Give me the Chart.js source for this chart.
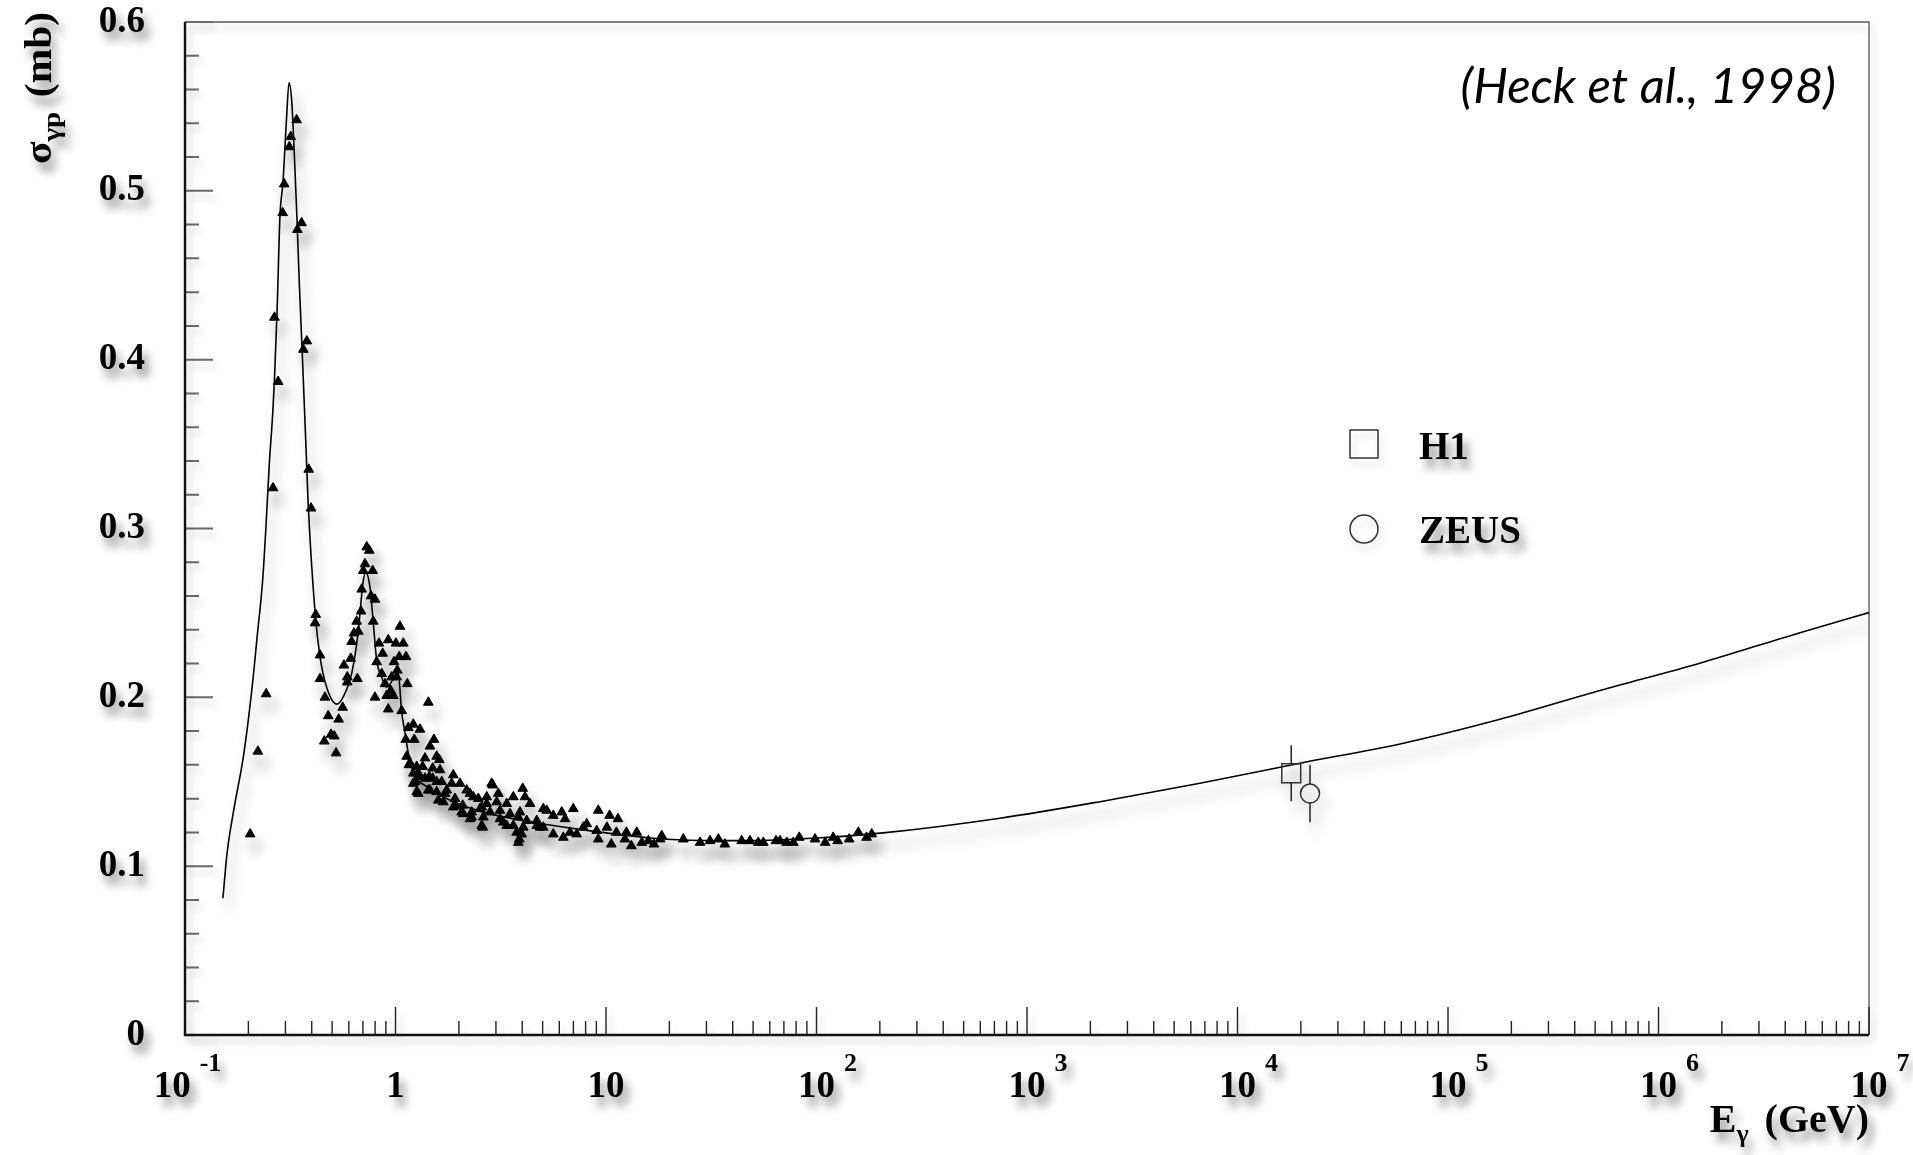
<!DOCTYPE html>
<html>
  <head>
    <title>Photoproduction cross section</title>
    <meta charset="utf-8">
    <style>
      html, body { margin: 0; padding: 0; background: #fff; overflow: hidden; }
      #frame { width: 1913px; height: 1155px; position: relative; }
    </style>
  </head>
  <body>
    <div id="frame">
      <canvas id="chart"></canvas>
    </div>

    <script src="https://cdn.jsdelivr.net/npm/chart.js"></script>
    <script>
      // decades shown on the energy axis (10^-1 .. 10^7 GeV)
      const decades = [-1, 0, 1, 2, 3, 4, 5, 6, 7];

      // low energy photoproduction data (triangles), E in GeV, sigma in mb
      const photonEnergy = [
        0.204, 0.222, 0.243, 0.262, 0.266, 0.277, 0.291, 0.296, 0.313, 0.318,
        0.339, 0.342, 0.358, 0.365, 0.379, 0.387, 0.397, 0.418, 0.415, 0.438,
        0.438, 0.462, 0.479, 0.459, 0.494, 0.512, 0.522, 0.537, 0.561, 0.569,
        0.590, 0.590, 0.613, 0.659, 0.619, 0.635, 0.666, 0.654, 0.686, 0.691,
        0.703, 0.716, 0.779, 0.730, 0.751, 0.765, 0.799, 0.784, 0.814, 0.835,
        0.869, 0.924, 1.005, 1.089, 1.050, 0.984, 1.042, 1.122, 0.860, 0.892,
        0.959, 1.020, 1.013, 0.799, 0.908, 0.949, 0.976, 0.924, 1.138, 1.432,
        1.070, 1.150, 1.215, 1.307, 1.118, 1.228, 1.523, 1.458, 1.569, 1.130,
        1.159, 1.381, 1.261, 1.502, 1.215, 1.307, 1.447, 1.215, 1.283, 1.458,
        1.569, 1.627, 1.597, 1.719, 1.882, 1.917, 2.10, 2.025, 2.179, 2.343,
        2.301, 2.568, 2.568, 2.712, 2.896, 3.079, 2.812, 3.136, 3.375, 3.628,
        4.021, 4.123, 4.355, 3.765, 3.874, 3.977, 3.499, 3.832, 4.201, 4.688,
        5.036, 5.228, 5.617, 6.16, 6.99, 6.39, 5.036, 5.617, 6.27, 6.75,
        7.26, 7.80, 8.10, 9.19, 10.4, 11.4, 9.03, 10.1, 11.2, 9.19,
        10.6, 12.5, 14.0, 12.3, 13.2, 14.8, 15.9, 16.9, 18.1, 18.4,
        23.3, 28.0, 31.2, 34.2, 36.7, 44.1, 48.3, 52.9, 55.9, 64.2,
        67.1, 72.2, 77.6, 82.8, 98.4, 110, 120, 126, 143, 158,
        173, 183,
        1.172, 1.615, 1.346, 1.283, 1.238, 1.381, 1.502, 1.658, 1.849, 1.261,
        1.432, 1.569, 1.751, 2.259, 2.864, 1.917, 2.474, 1.687, 2.086, 2.712,
        3.026, 3.375, 1.882, 2.301, 2.52, 2.063, 2.259, 2.613, 3.136, 3.903,
        4.688, 2.596, 3.252, 3.628, 4.047, 3.832, 4.86
      ];
      const photonSigma = [
        0.119, 0.168, 0.202, 0.324, 0.425, 0.387, 0.487, 0.504, 0.526, 0.532,
        0.542, 0.477, 0.481, 0.406, 0.411, 0.335, 0.312, 0.249, 0.244, 0.225,
        0.211, 0.200, 0.189, 0.174, 0.178, 0.177, 0.167, 0.187, 0.194, 0.219,
        0.209, 0.212, 0.223, 0.211, 0.233, 0.238, 0.239, 0.245, 0.251, 0.264,
        0.275, 0.279, 0.275, 0.289, 0.287, 0.260, 0.258, 0.245, 0.221, 0.232,
        0.226, 0.234, 0.232, 0.232, 0.242, 0.221, 0.224, 0.224, 0.214, 0.208,
        0.212, 0.216, 0.212, 0.200, 0.201, 0.204, 0.201, 0.193, 0.208, 0.197,
        0.192, 0.182, 0.184, 0.181, 0.175, 0.175, 0.175, 0.171, 0.165, 0.165,
        0.160, 0.164, 0.159, 0.158, 0.155, 0.153, 0.153, 0.149, 0.143, 0.145,
        0.150, 0.157, 0.139, 0.143, 0.154, 0.136, 0.131, 0.149, 0.145, 0.141,
        0.129, 0.124, 0.135, 0.141, 0.148, 0.143, 0.132, 0.128, 0.124, 0.141,
        0.146, 0.141, 0.137, 0.120, 0.116, 0.119, 0.131, 0.129, 0.127, 0.124,
        0.134, 0.133, 0.130, 0.132, 0.134, 0.128, 0.123, 0.119, 0.117, 0.120,
        0.119, 0.123, 0.125, 0.133, 0.130, 0.128, 0.121, 0.123, 0.120, 0.116,
        0.113, 0.120, 0.120, 0.116, 0.112, 0.114, 0.115, 0.113, 0.116, 0.118,
        0.116, 0.114, 0.115, 0.116, 0.113, 0.115, 0.115, 0.114, 0.114, 0.115,
        0.115, 0.114, 0.114, 0.117, 0.116, 0.114, 0.117, 0.115, 0.116, 0.120,
        0.117, 0.119,
        0.161, 0.163, 0.159, 0.155, 0.150, 0.152, 0.152, 0.150, 0.149, 0.144,
        0.145, 0.144, 0.145, 0.143, 0.149, 0.140, 0.140, 0.138, 0.136, 0.137,
        0.138, 0.137, 0.135, 0.132, 0.134, 0.132, 0.128, 0.129, 0.133, 0.132,
        0.127, 0.123, 0.126, 0.124, 0.123, 0.114, 0.123
      ];

      // model curve (solid line)
      const fitEnergy = [
        0.1514, 0.1582, 0.1703, 0.1905, 0.209, 0.221, 0.2334, 0.2422, 0.2514, 0.261,
        0.266, 0.274, 0.2826, 0.292, 0.304, 0.312, 0.321, 0.330, 0.340, 0.349,
        0.360, 0.376, 0.384, 0.415, 0.438, 0.471, 0.526, 0.563, 0.620, 0.664,
        0.701, 0.722, 0.757, 0.782, 0.814, 0.86, 0.908, 1.03, 1.07, 1.11,
        1.15, 1.22, 1.41, 1.82, 2.61, 4.5, 7.8, 16.2, 23.2, 48.3,
        100, 207, 744, 2222, 6635, 1.98e4, 5.92e4, 1.766e5, 5.27e5, 1.57e6,
        4.7e6, 1e7
      ];
      const fitSigma = [
        0.081, 0.107, 0.133, 0.167, 0.2075, 0.238, 0.268, 0.300, 0.338, 0.368,
        0.388, 0.430, 0.485, 0.505, 0.544, 0.564, 0.554, 0.524, 0.485, 0.446,
        0.406, 0.347, 0.317, 0.250, 0.224, 0.206, 0.196, 0.200, 0.2145, 0.238,
        0.268, 0.274, 0.265, 0.246, 0.222, 0.212, 0.206, 0.2145, 0.191, 0.179,
        0.167, 0.155, 0.147, 0.139, 0.132, 0.126, 0.1215, 0.1167, 0.1155, 0.1151,
        0.1167, 0.1197, 0.1284, 0.1382, 0.1491, 0.161, 0.1724, 0.187, 0.204, 0.2202,
        0.2383, 0.2502
      ];

      // HERA measurements
      const heraLabels = ['H1', 'ZEUS'];
      const heraEnergy = [1.80e4, 2.21e4];
      const heraSigma = [0.155, 0.143];
      const heraError = [0.0166, 0.017];

      const serif = "'Liberation Serif', 'Times New Roman', serif";

      function setShadow(ctx, color, blur, dx, dy) {
        ctx.shadowColor = color;
        ctx.shadowBlur = blur;
        ctx.shadowOffsetX = dx;
        ctx.shadowOffsetY = dy;
      }

      const rootStyle = {
        id: 'rootStyle',
        beforeDraw(chart) {
          const ctx = chart.ctx;
          ctx.save();
          setShadow(ctx, 'rgba(0,0,0,0.45)', 10, 5, 9);
        },
        beforeDatasetsDraw(chart) {
          const ctx = chart.ctx;
          const {left, right, top, bottom} = chart.chartArea;
          const xs = chart.scales.x, ys = chart.scales.y;
          ctx.save();
          setShadow(ctx, 'rgba(0,0,0,0.22)', 8, 4, 6);

          // thin frame on top and right
          ctx.strokeStyle = '#555';
          ctx.lineWidth = 1.3;
          ctx.beginPath();
          ctx.moveTo(left, top); ctx.lineTo(right, top); ctx.lineTo(right, bottom);
          ctx.stroke();

          // y ticks
          ctx.strokeStyle = '#6a6a6a';
          ctx.lineWidth = 2;
          ctx.beginPath();
          for (let i = 0; i <= 30; i++) {
            const y = ys.getPixelForValue(i * 0.02);
            const len = i % 5 === 0 ? 28 : 14;
            ctx.moveTo(left, y); ctx.lineTo(left + len, y);
          }
          ctx.stroke();

          // x ticks
          ctx.strokeStyle = '#222';
          ctx.lineWidth = 1.4;
          ctx.beginPath();
          for (let d = -1; d < 7; d++) {
            for (let m = 1; m <= 9; m++) {
              const x = xs.getPixelForValue(m * Math.pow(10, d));
              const len = m === 1 ? 28 : 14;
              ctx.moveTo(x, bottom); ctx.lineTo(x, bottom - len);
            }
          }
          const xEnd = xs.getPixelForValue(1e7);
          ctx.moveTo(xEnd, bottom); ctx.lineTo(xEnd, bottom - 28);
          ctx.stroke();

          // axes
          ctx.strokeStyle = '#111';
          ctx.lineWidth = 2.4;
          ctx.beginPath();
          ctx.moveTo(left, top); ctx.lineTo(left, bottom); ctx.lineTo(right, bottom);
          ctx.stroke();

          setShadow(ctx, 'rgba(0,0,0,0.42)', 14, 5, 12);
        },
        afterDatasetsDraw(chart) {
          const ctx = chart.ctx;
          const xs = chart.scales.x, ys = chart.scales.y;
          // error bars, drawn outside the markers
          ctx.strokeStyle = '#222';
          ctx.lineWidth = 1.5;
          ctx.beginPath();
          heraEnergy.forEach((e, i) => {
            const x = xs.getPixelForValue(e);
            const yc = ys.getPixelForValue(heraSigma[i]);
            const yt = ys.getPixelForValue(heraSigma[i] + heraError[i]);
            const yb = ys.getPixelForValue(heraSigma[i] - heraError[i]);
            const half = 9.5;
            ctx.moveTo(x, yt); ctx.lineTo(x, yc - half);
            ctx.moveTo(x, yc + half); ctx.lineTo(x, yb);
          });
          ctx.stroke();
          ctx.restore();
        },
        afterDraw(chart) {
          const ctx = chart.ctx;
          const {left, right, top, bottom} = chart.chartArea;
          const xs = chart.scales.x;
          ctx.fillStyle = '#000';
          ctx.textBaseline = 'alphabetic';

          // x tick labels with exponents
          const labelFont = `bold 37px ${serif}`;
          const expFont = `bold 26px ${serif}`;
          decades.forEach(d => {
            const x = xs.getPixelForValue(Math.pow(10, d));
            ctx.font = labelFont;
            ctx.textAlign = 'center';
            if (d === 0 || d === 1) {
              ctx.fillText(d === 0 ? '1' : '10', x, bottom + 62);
              return;
            }
            const exp = String(d);
            ctx.font = expFont;
            const ew = ctx.measureText(exp).width;
            const cx = d < 0 ? x - ew / 2 - 2 : x;
            ctx.font = labelFont;
            const w10 = ctx.measureText('10').width;
            ctx.fillText('10', cx, bottom + 62);
            ctx.font = expFont;
            ctx.textAlign = 'left';
            ctx.fillText(exp, cx + w10 / 2 + 9, bottom + 36);
          });

          // x axis title
          const big = `bold 40px ${serif}`, small = `bold 26px ${serif}`;
          ctx.textAlign = 'left';
          ctx.font = big;
          const wE = ctx.measureText('E').width;
          const wP = ctx.measureText('(GeV)').width;
          ctx.font = small;
          const wg = ctx.measureText('γ').width;
          let x0 = right - (wE + wg + 16 + wP);
          ctx.font = big; ctx.fillText('E', x0, bottom + 97);
          ctx.font = small; ctx.fillText('γ', x0 + wE, bottom + 107);
          ctx.font = big; ctx.fillText('(GeV)', x0 + wE + wg + 16, bottom + 97);

          // y axis title, read bottom to top, ending at the top of the axis
          ctx.save();
          ctx.translate(51, 0);
          ctx.rotate(-Math.PI / 2);
          const stretch = 1.12;
          const yBig = `bold 37px ${serif}`, ySmall = `bold 26px ${serif}`;
          ctx.font = yBig;
          const wS = ctx.measureText('σ').width;
          const wU = ctx.measureText('(mb)').width;
          ctx.font = ySmall;
          const wGp = ctx.measureText('γp').width;
          const total = (wS + wGp + 13 + wU) * stretch;
          ctx.translate(-(top - 10) - total, 0);
          ctx.scale(stretch, 1);
          let u = 0;
          ctx.font = yBig; ctx.fillText('σ', u, 0); u += wS;
          ctx.font = ySmall; ctx.fillText('γp', u, 9); u += wGp + 13;
          ctx.font = yBig; ctx.fillText('(mb)', u, 0);
          ctx.restore();

          // legend
          const lx = 1350, ly = 430;
          ctx.save();
          setShadow(ctx, 'rgba(0,0,0,0.2)', 8, 3, 6);
          ctx.strokeStyle = '#333';
          ctx.lineWidth = 1.5;
          ctx.strokeRect(lx, ly, 28, 28);
          ctx.beginPath();
          ctx.arc(lx + 14, ly + 99, 14, 0, Math.PI * 2);
          ctx.stroke();
          ctx.restore();
          ctx.font = `bold 39px ${serif}`;
          ctx.textAlign = 'left';
          ctx.fillText(heraLabels[0], lx + 69, ly + 29);
          ctx.fillText(heraLabels[1], lx + 69, ly + 113);

          // reference note
          setShadow(ctx, 'rgba(0,0,0,0)', 0, 0, 0);
          ctx.font = "italic 49px Lato, 'Open Sans', sans-serif";
          ctx.textAlign = 'right';
          ctx.fillText('(Heck et al., 1998)', right - 33, top + 81);

          ctx.restore();
        }
      };

      const photonPoints = photonEnergy.map((e, i) => ({x: e, y: photonSigma[i]}));
      const fitPoints = fitEnergy.map((e, i) => ({x: e, y: fitSigma[i]}));

      new Chart(document.getElementById('chart'), {
        type: 'scatter',
        data: {
          datasets: [
            {
              label: heraLabels[0],
              data: [{x: heraEnergy[0], y: heraSigma[0]}],
              pointStyle: 'rect',
              pointRadius: 13.4,
              backgroundColor: 'rgba(0,0,0,0)',
              borderColor: '#333',
              borderWidth: 1.5
            },
            {
              label: heraLabels[1],
              data: [{x: heraEnergy[1], y: heraSigma[1]}],
              pointStyle: 'circle',
              pointRadius: 9.5,
              backgroundColor: 'rgba(0,0,0,0)',
              borderColor: '#333',
              borderWidth: 1.5
            },
            {
              label: 'data',
              data: photonPoints,
              pointStyle: 'triangle',
              pointRadius: 5.6,
              backgroundColor: '#000',
              borderColor: '#000',
              borderWidth: 1
            },
            {
              label: 'model',
              data: fitPoints,
              showLine: true,
              pointRadius: 0,
              borderColor: '#000',
              borderWidth: 1.6,
              cubicInterpolationMode: 'monotone',
              fill: false
            }
          ]
        },
        options: {
          responsive: true,
          maintainAspectRatio: false,
          animation: false,
          events: [],
          layout: { padding: { top: 22, right: 44, left: 0, bottom: 0 } },
          plugins: {
            legend: { display: false },
            tooltip: { enabled: false }
          },
          scales: {
            x: {
              type: 'logarithmic',
              min: 0.1,
              max: 1e7,
              grid: { display: false },
              border: { display: false },
              ticks: { display: false },
              afterFit(scale) {
                scale.height = 120;
                scale.paddingLeft = 0;
                scale.paddingRight = 0;
              }
            },
            y: {
              min: 0,
              max: 0.6,
              grid: { display: false, drawTicks: false },
              border: { display: false },
              ticks: {
                stepSize: 0.1,
                padding: 40,
                color: '#000',
                font: { family: serif, weight: 'bold', size: 37 },
                callback: v => v === 0 ? '0' : v.toFixed(1)
              },
              afterFit(scale) {
                scale.width = 185;
                scale.paddingTop = 0;
                scale.paddingBottom = 0;
              }
            }
          }
        },
        plugins: [rootStyle]
      });
    </script>
  </body>
</html>
